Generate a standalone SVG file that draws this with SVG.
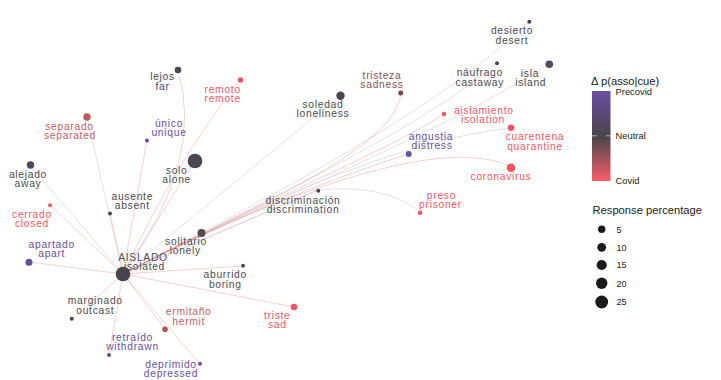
<svg xmlns="http://www.w3.org/2000/svg" width="721" height="380" viewBox="0 0 721 380">
  <style>
    .lbl { font-family: "Liberation Sans", Arial, sans-serif; font-size: 10.3px; letter-spacing: 0.7px; text-anchor: middle; }
    .dk { fill: #4e4a53; }
    .rd { fill: #f25a64; }
    .pu { fill: #6a4fa0; }
    .mr { fill: #c2615f; }
    .br { fill: #8a5252; }
    .e { fill: none; stroke-width: 0.65; }
    .ep { stroke: #f1b8bc; }
    .eg { stroke: #d6cfd3; }
    .er { stroke: #e46a70; stroke-opacity: 0.5; }
    .leg { font-family: "Liberation Sans", Arial, sans-serif; fill: #222; }
  </style>
  <defs>
    <linearGradient id="deltaScale" x1="0" y1="0" x2="0" y2="1">
      <stop offset="0" stop-color="#6b4fa2"/>
      <stop offset="0.5" stop-color="#48454d"/>
      <stop offset="1" stop-color="#f65d68"/>
    </linearGradient>
  </defs>
  <rect width="721" height="380" fill="#ffffff"/>

  <!-- connectors -->
  <g id="edges">
    <path class="e ep" d="M123,274 Q205,160 178,70"/>
    <path class="e ep" d="M123,274 Q178,158 240,80"/>
    <path class="e ep" d="M123,274 L147,140"/>
    <path class="e eg" d="M123,274 L87,117"/>
    <path class="e ep" d="M123,274 L195,161"/>
    <path class="e eg" d="M123,274 L30,165"/>
    <path class="e ep" d="M123,274 L110,213"/>
    <path class="e ep" d="M123,274 L50,205"/>
    <path class="e ep" d="M123,274 L29,262"/>
    <path class="e ep" d="M123,274 L243,266"/>
    <path class="e ep" d="M123,274 L294,307"/>
    <path class="e ep" d="M123,274 L72,319"/>
    <path class="e ep" d="M123,274 L165,329"/>
    <path class="e ep" d="M123,274 L109,355"/>
    <path class="e ep" d="M123,274 L200,364"/>
    <path class="e eg" d="M123,274 L341,95"/>
    <path class="e er" d="M123,274 L201,233"/>
    <path class="e er" d="M123,274 L318,190"/>
    <path class="e eg" d="M123,274 L318,190 C360,186 395,192 420,212"/>
    <path class="e eg" d="M123,274 C255,205 440,110 529,21"/>
    <path class="e eg" d="M123,274 C255,205 420,130 497,63"/>
    <path class="e eg" d="M123,274 C255,205 430,140 549,64"/>
    <path class="e er" d="M123,274 C255,205 390,150 444,114"/>
    <path class="e eg" d="M123,274 C255,205 400,140 511,128"/>
    <path class="e er" d="M123,274 C255,205 360,170 408,154"/>
    <path class="e er" d="M123,274 C255,205 440,130 511,167"/>
    <path class="e er" d="M123,274 C255,205 395,150 401,93"/>
  </g>

  <!-- nodes -->
  <g id="aislado"><circle cx="123" cy="274" r="7.3" fill="#48444c"/><text class="lbl dk" x="143" y="260.8">AISLADO</text><text class="lbl dk" x="144.5" y="270.2">isolated</text></g>
  <g id="lejos"><circle cx="178" cy="70" r="3.3" fill="#4b4650"/><text class="lbl dk" x="162.5" y="80.2">lejos</text><text class="lbl dk" x="162.5" y="89.5">far</text></g>
  <g id="remoto"><circle cx="240.5" cy="80" r="2.7" fill="#f4555f"/><text class="lbl rd" x="222.7" y="92.5">remoto</text><text class="lbl rd" x="222.7" y="101.8">remote</text></g>
  <g id="separado"><circle cx="87" cy="117" r="3.7" fill="#bf5a58"/><text class="lbl mr" x="69.5" y="129.8">separado</text><text class="lbl mr" x="70" y="139.3">separated</text></g>
  <g id="unico"><circle cx="147" cy="140.5" r="2" fill="#6a4fa0"/><text class="lbl pu" x="169" y="126.5">único</text><text class="lbl pu" x="169" y="136">unique</text></g>
  <g id="solo"><circle cx="195" cy="161" r="7.3" fill="#4b4650"/><text class="lbl dk" x="176.7" y="173.8">solo</text><text class="lbl dk" x="176.7" y="183">alone</text></g>
  <g id="alejado"><circle cx="30.5" cy="165" r="3.7" fill="#4f4760"/><text class="lbl dk" x="28" y="177.5">alejado</text><text class="lbl dk" x="28" y="187">away</text></g>
  <g id="ausente"><circle cx="110" cy="213.5" r="2" fill="#4b4650"/><text class="lbl dk" x="132.3" y="199.5">ausente</text><text class="lbl dk" x="132.3" y="208.8">absent</text></g>
  <g id="cerrado"><circle cx="50" cy="205.3" r="2" fill="#f4555f"/><text class="lbl rd" x="32" y="217.8">cerrado</text><text class="lbl rd" x="32" y="227.2">closed</text></g>
  <g id="apartado"><circle cx="29" cy="262.3" r="3.5" fill="#64508f"/><text class="lbl pu" x="51.7" y="247.8">apartado</text><text class="lbl pu" x="51.7" y="257.3">apart</text></g>
  <g id="solitario"><circle cx="201.5" cy="233" r="4" fill="#554a4e"/><text class="lbl dk" x="186" y="244.8">solitario</text><text class="lbl dk" x="185.3" y="254.2">lonely</text></g>
  <g id="aburrido"><circle cx="243" cy="265.7" r="2" fill="#4b4650"/><text class="lbl dk" x="225.3" y="278.2">aburrido</text><text class="lbl dk" x="225.3" y="287.5">boring</text></g>
  <g id="triste"><circle cx="294" cy="307" r="3.3" fill="#f4555f"/><text class="lbl rd" x="277.3" y="318.5">triste</text><text class="lbl rd" x="277.3" y="328.2">sad</text></g>
  <g id="marginado"><circle cx="71.7" cy="318.7" r="2" fill="#4b4650"/><text class="lbl dk" x="95.3" y="304.2">marginado</text><text class="lbl dk" x="95.3" y="313.5">outcast</text></g>
  <g id="ermitano"><circle cx="165" cy="329.3" r="2.8" fill="#b3514f"/><text class="lbl mr" x="188.7" y="315.2">ermitaño</text><text class="lbl mr" x="188.7" y="324.5">hermit</text></g>
  <g id="retraido"><circle cx="109" cy="355" r="2" fill="#6a4fa0"/><text class="lbl pu" x="132.5" y="340.8">retraído</text><text class="lbl pu" x="132.5" y="350.2">withdrawn</text></g>
  <g id="deprimido"><circle cx="200" cy="363.7" r="2" fill="#6a4fa0"/><text class="lbl pu" x="171" y="367.5">deprimido</text><text class="lbl pu" x="171" y="376.8">depressed</text></g>
  <g id="soledad"><circle cx="340.5" cy="95.7" r="4.2" fill="#4b4650"/><text class="lbl dk" x="323" y="107.8">soledad</text><text class="lbl dk" x="323" y="117.2">loneliness</text></g>
  <g id="tristeza"><circle cx="400.7" cy="93" r="2.5" fill="#7c4646"/><text class="lbl br" x="382" y="78.5">tristeza</text><text class="lbl br" x="382" y="87.8">sadness</text></g>
  <g id="discriminacion"><circle cx="318.3" cy="190.7" r="2" fill="#4b4650"/><text class="lbl dk" x="303" y="203.5">discriminación</text><text class="lbl dk" x="303" y="212.8">discrimination</text></g>
  <g id="desierto"><circle cx="529.3" cy="21.7" r="2" fill="#4b4650"/><text class="lbl dk" x="512" y="34.2">desierto</text><text class="lbl dk" x="512" y="43.5">desert</text></g>
  <g id="naufrago"><circle cx="497" cy="63.3" r="2" fill="#4b4650"/><text class="lbl dk" x="479.8" y="76.2">náufrago</text><text class="lbl dk" x="479.8" y="85.5">castaway</text></g>
  <g id="isla"><circle cx="549.3" cy="64.3" r="3.8" fill="#524a62"/><text class="lbl dk" x="530" y="76.5">isla</text><text class="lbl dk" x="530.7" y="85.8">island</text></g>
  <g id="aislamiento"><circle cx="444" cy="114" r="2.2" fill="#f4555f"/><text class="lbl rd" x="483.8" y="113.5">aislamiento</text><text class="lbl rd" x="483" y="122.8">isolation</text></g>
  <g id="cuarentena"><circle cx="511" cy="127.7" r="3.3" fill="#f4555f"/><text class="lbl rd" x="535" y="140.2">cuarentena</text><text class="lbl rd" x="535" y="149.5">quarantine</text></g>
  <g id="angustia"><circle cx="408.7" cy="154" r="3" fill="#6a4fa0"/><text class="lbl pu" x="431" y="140.2">angustia</text><text class="lbl pu" x="432" y="149.2">distress</text></g>
  <g id="coronavirus"><circle cx="511" cy="167.7" r="4.3" fill="#f4555f"/><text class="lbl rd" x="501" y="180.2">coronavirus</text></g>
  <g id="preso"><circle cx="420" cy="212.7" r="2.2" fill="#f4555f"/><text class="lbl rd" x="441.5" y="198.5">preso</text><text class="lbl rd" x="440.5" y="207.8">prisoner</text></g>

  <!-- colour legend -->
  <g id="legend-colour">
    <text class="leg" x="591" y="85" font-size="11.2">Δ p(asso|cue)</text>
    <rect x="592" y="91" width="18.5" height="90" fill="url(#deltaScale)"/>
    <line x1="592" y1="135.8" x2="597" y2="135.8" stroke="#cfcfcf" stroke-width="0.8"/>
    <line x1="606" y1="135.8" x2="610.5" y2="135.8" stroke="#cfcfcf" stroke-width="0.8"/>
    <text class="leg" x="615.5" y="94.5" font-size="9.4">Precovid</text>
    <text class="leg" x="615.5" y="139.3" font-size="9.4">Neutral</text>
    <text class="leg" x="615.5" y="184" font-size="9.4">Covid</text>
  </g>

  <!-- size legend -->
  <g id="legend-size">
    <text class="leg" x="592.5" y="214" font-size="11.2">Response percentage</text>
    <circle cx="601.7" cy="229.3" r="3.7" fill="#1a1a1a"/>
    <circle cx="601.7" cy="247.3" r="4.4" fill="#1a1a1a"/>
    <circle cx="601.7" cy="265" r="5.1" fill="#1a1a1a"/>
    <circle cx="601.7" cy="283.3" r="5.7" fill="#1a1a1a"/>
    <circle cx="601.7" cy="302" r="6.4" fill="#1a1a1a"/>
    <text class="leg" x="616.5" y="232.5" font-size="9">5</text>
    <text class="leg" x="616.5" y="250.5" font-size="9">10</text>
    <text class="leg" x="616.5" y="268.3" font-size="9">15</text>
    <text class="leg" x="616.5" y="286.6" font-size="9">20</text>
    <text class="leg" x="616.5" y="305.3" font-size="9">25</text>
  </g>
</svg>
